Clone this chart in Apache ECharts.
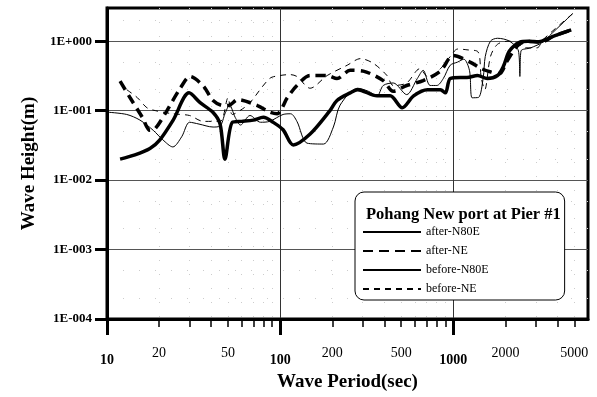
<!DOCTYPE html>
<html>
<head>
<meta charset="utf-8">
<script src="https://cdn.jsdelivr.net/npm/echarts@6/dist/echarts.min.js"></script>
<style>html,body{margin:0;padding:0;background:#fff}#c{width:597px;height:397px}</style>
</head>
<body>
<div id="c"></div>
<script>
// Wave period (sec) and wave height (m)
var afterN80E_T = [11.9, 14.5, 17.7, 20.2, 24.1, 29.8, 34.5, 41, 45, 48, 53, 60, 70, 80, 91, 104, 119, 149, 194, 213, 254, 280, 363, 432, 507, 590, 710, 842, 900, 960, 1100, 1200, 1380, 1570, 1800, 1945, 2110, 2425, 2700, 3050, 3800, 4800];
var afterN80E_H = [0.020, 0.023, 0.0285, 0.038, 0.073, 0.18, 0.13, 0.094, 0.064, 0.020, 0.068, 0.07, 0.073, 0.08, 0.068, 0.053, 0.032, 0.046, 0.1, 0.14, 0.18, 0.2, 0.163, 0.163, 0.11, 0.163, 0.2, 0.2, 0.18, 0.29, 0.30, 0.30, 0.32, 0.29, 0.32, 0.43, 0.72, 0.97, 1.0, 0.97, 1.18, 1.45];

var afterNE_T = [11.9, 13.6, 16, 17.7, 19, 22.2, 26.5, 30.2, 36, 41, 47, 51, 57, 74, 87, 96, 110, 125, 149, 187, 213, 254, 302, 394, 450, 538, 670, 842, 1000, 1250, 1460, 1650, 1850, 2030, 2340, 2650, 3200, 3800, 4800];
var afterNE_H = [0.265, 0.153, 0.08, 0.052, 0.055, 0.1, 0.21, 0.31, 0.226, 0.14, 0.118, 0.12, 0.144, 0.118, 0.095, 0.09, 0.153, 0.23, 0.32, 0.32, 0.29, 0.38, 0.37, 0.27, 0.19, 0.23, 0.27, 0.37, 0.62, 0.5, 0.4, 0.36, 0.34, 0.5, 0.85, 1.0, 0.97, 1.18, 1.45];

var beforeN80E_T = [10, 13, 15.5, 18.5, 21, 24, 27, 30, 34, 41, 45, 48, 51, 55, 59, 67, 77, 87, 104, 115, 125, 143, 178, 203, 222, 280, 323, 363, 394, 450, 538, 620, 670, 735, 804, 876, 960, 1060, 1150, 1240, 1286, 1400, 1490, 1530, 1640, 1800, 2110, 2380, 2425, 2460, 2800, 3300, 3600, 4900];
var beforeN80E_H = [0.095, 0.088, 0.073, 0.052, 0.038, 0.030, 0.042, 0.068, 0.064, 0.058, 0.06, 0.09, 0.12, 0.08, 0.062, 0.085, 0.068, 0.07, 0.088, 0.09, 0.07, 0.034, 0.033, 0.058, 0.12, 0.21, 0.19, 0.163, 0.23, 0.25, 0.17, 0.29, 0.38, 0.23, 0.23, 0.29, 0.45, 0.5, 0.55, 0.38, 0.153, 0.155, 0.3, 0.6, 1.0, 1.1, 1.0, 0.72, 0.31, 0.72, 0.8, 0.97, 1.2, 2.5];

var beforeNE_T = [13, 15, 17, 19, 24, 30, 36, 45, 50, 53, 62, 67, 87, 100, 114, 125, 149, 187, 244, 291, 345, 414, 450, 538, 640, 720, 842, 960, 1060, 1200, 1390, 1450, 1520, 1640, 1800, 2100, 2400, 2600, 3050, 3300, 5000];
var beforeNE_H = [0.2, 0.153, 0.11, 0.1, 0.09, 0.085, 0.07, 0.07, 0.153, 0.088, 0.11, 0.13, 0.29, 0.32, 0.33, 0.31, 0.21, 0.32, 0.45, 0.56, 0.48, 0.32, 0.23, 0.25, 0.4, 0.3, 0.4, 0.6, 0.77, 0.75, 0.7, 0.3, 0.2, 0.6, 0.9, 1.0, 0.9, 0.8, 0.8, 1.05, 2.6];

var majorXTicks = [10, 100, 1000];
var minorXTicks = [20, 30, 40, 50, 60, 70, 80, 90, 200, 300, 400, 500, 600, 700, 800, 900, 2000, 3000, 4000, 5000];
var minorXLabels = [20, 50, 200, 500, 2000, 5000];
var yTicks = [0.0001, 0.001, 0.01, 0.1, 1];
var yMinorGrid = [0.0002, 0.0005, 0.002, 0.005, 0.02, 0.05, 0.2, 0.5, 2];

function pairs(t, h) { return t.map(function (v, i) { return [v, h[i]]; }); }
function expLabel(v) {
  var e = Math.round(Math.log10(v));
  var s = e < 0 ? '-' : '+';
  var a = String(Math.abs(e));
  while (a.length < 3) a = '0' + a;
  return '1E' + s + a;
}
function plainLabel(v) { return String(Math.round(v)); }

var FONT = 'Liberation Serif';
var chart = echarts.init(document.getElementById('c'), null, {renderer: 'canvas'});
chart.setOption({
  animation: false,
  backgroundColor: '#fff',
  title: {
    text: 'Pohang New port at Pier #1',
    left: 361, top: 201,
    textStyle: {fontFamily: FONT, fontSize: 16.5, fontWeight: 'bold', color: '#000'}
  },
  legend: {
    orient: 'vertical',
    left: 355, top: 192,
    padding: [33, 76, 4, 7],
    itemWidth: 58, itemHeight: 14, itemGap: 5,
    borderColor: '#000', borderWidth: 1, borderRadius: 9,
    backgroundColor: '#fff',
    itemStyle: {opacity: 0},
    textStyle: {fontFamily: FONT, fontSize: 12, color: '#000', lineHeight: 14},
    data: ['after-N80E', 'after-NE', 'before-N80E', 'before-NE']
  },
  grid: {left: 107, right: 9, top: 8, bottom: 70, show: true, borderColor: '#000', borderWidth: 3, backgroundColor: 'transparent'},
  xAxis: [{
    type: 'log', logBase: 10, min: 10, max: 6000,
    name: 'Wave Period(sec)', nameLocation: 'middle', nameGap: 54,
    nameTextStyle: {fontFamily: FONT, fontSize: 19, fontWeight: 'bold', color: '#000'},
    axisLine: {lineStyle: {color: '#000', width: 3}},
    axisTick: {customValues: majorXTicks, length: 16, lineStyle: {color: '#000', width: 3}},
    axisLabel: {customValues: majorXTicks, margin: 34, fontFamily: FONT, fontSize: 14, fontWeight: 'bold', color: '#000', formatter: plainLabel},
    splitLine: {show: true, lineStyle: {color: '#333', width: 1}}
  }, {
    type: 'log', logBase: 10, min: 10, max: 6000, position: 'bottom',
    axisLine: {show: false},
    axisTick: {customValues: minorXTicks, length: 8, lineStyle: {color: '#000', width: 1.5}},
    axisLabel: {customValues: minorXLabels, margin: 27, fontFamily: FONT, fontSize: 14, color: '#000', formatter: plainLabel},
    splitLine: {show: true, lineStyle: {color: '#ccc', width: 1, type: [1, 13]}}
  }],
  yAxis: [{
    type: 'log', logBase: 10, min: 0.0001, max: 3,
    name: 'Wave Height(m)', nameLocation: 'middle', nameGap: 67,
    nameTextStyle: {fontFamily: FONT, fontSize: 19, fontWeight: 'bold', color: '#000'},
    axisLine: {lineStyle: {color: '#000', width: 3}},
    axisTick: {customValues: yTicks, length: 12, lineStyle: {color: '#000', width: 3}},
    axisLabel: {customValues: yTicks, margin: 15, fontFamily: FONT, fontSize: 13, fontWeight: 'bold', color: '#000', formatter: expLabel},
    splitLine: {show: true, lineStyle: {color: '#555', width: 1}}
  }, {
    type: 'log', logBase: 10, min: 0.0001, max: 3, position: 'left',
    axisLine: {show: false},
    axisTick: {show: false, customValues: yMinorGrid},
    axisLabel: {show: false},
    splitLine: {show: true, lineStyle: {color: '#ccc', width: 1, type: [1, 15]}}
  }],
  series: [
    {name: 'before-N80E', type: 'line', data: pairs(beforeN80E_T, beforeN80E_H), showSymbol: false, symbol: 'none', smooth: 0.3, z: 2,
     lineStyle: {color: '#000', width: 1}, itemStyle: {color: '#000'}},
    {name: 'before-NE', type: 'line', data: pairs(beforeNE_T, beforeNE_H), showSymbol: false, symbol: 'none', smooth: 0.3, z: 2,
     lineStyle: {color: '#000', width: 1, type: [6, 5]}, itemStyle: {color: '#000'}},
    {name: 'after-N80E', type: 'line', data: pairs(afterN80E_T, afterN80E_H), showSymbol: false, symbol: 'none', smooth: 0.3, z: 3,
     lineStyle: {color: '#000', width: 3.5}, itemStyle: {color: '#000'}},
    {name: 'after-NE', type: 'line', data: pairs(afterNE_T, afterNE_H), showSymbol: false, symbol: 'none', smooth: 0.3, z: 3,
     lineStyle: {color: '#000', width: 3.5, type: [10, 6]}, itemStyle: {color: '#000'}}
  ]
});
</script>
</body>
</html>
